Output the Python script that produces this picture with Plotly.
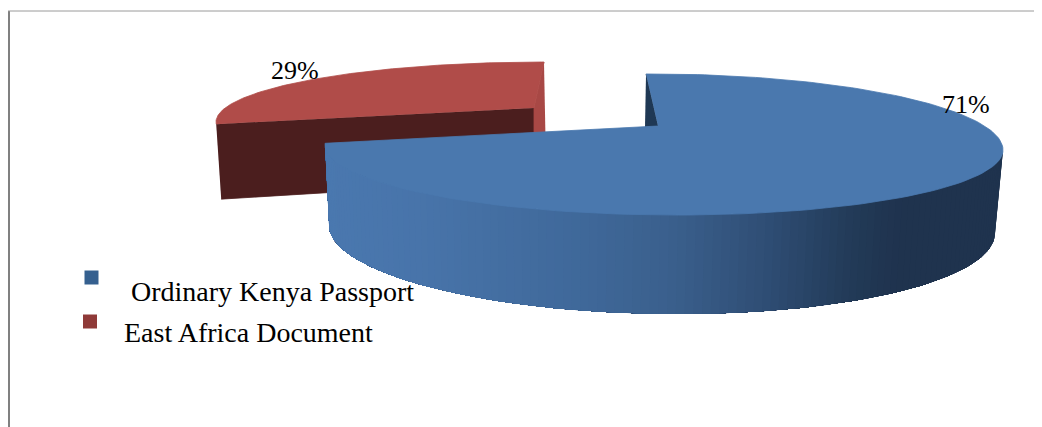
import numpy as np
import plotly.graph_objects as go

categories = ["Ordinary Kenya Passport", "East Africa Document"]
shares = [71, 29]

W, H = 1042, 427
PAGE_MARGIN = 8
K = 0.2

BLUE_TOP = "#4A78AE"
BLUE_CUT = "#1F3854"
RED_TOP = "#B04C49"
RED_SIDE = "#A84845"
RED_CUT = "#4B1E1E"
GRAD_X = [325, 420, 590, 680, 770, 860, 905, 1003]
GRAD_C = [(74, 120, 175), (72, 116, 170), (63, 104, 153), (58, 95, 140),
          (47, 78, 117), (34, 58, 87), (31, 51, 78), (31, 51, 78)]


def ellipse(phi, cx, cy, a, bt, bb, slope):
    r = np.radians(phi)
    x = cx + a * np.sin(r)
    c = np.cos(r)
    y = cy + slope * (x - cx) - np.where(c > 0, bt, bb) * c
    return x, y


def arc(start, end, apex, skew, ell, n=160):
    """Ellipse parameters of the rim between two pie angles, seen from the apex."""
    phi = np.linspace(0, 360, 1441)
    x, y = ellipse(phi, *ell)
    dx, dy = x - apex[0], y - apex[1]
    th = np.degrees(np.arctan2(dx + skew * dy, -dy / K))
    th = np.unwrap(th, period=360)
    want = np.linspace(start, end, n)
    wrapped = np.where(want < th.min(), want + 360, want)
    return np.interp(wrapped, th, phi) % 360


fig = go.Figure()


def poly(x, y, color, width=0.8):
    fig.add_trace(go.Scatter(x=list(x), y=list(y), mode="lines", fill="toself", fillcolor=color,
                             line=dict(color=color, width=width), hoverinfo="skip", showlegend=False))


angle_blue = shares[0] / sum(shares) * 360

# East Africa Document slice (pulled out)
red_apex = (534, 108)
red_ell = (544, 122, 328, 60, 60, 0.0)
red_phi = arc(angle_blue, 360, red_apex, 0.217, red_ell)
red_phi = np.where(red_phi < 1, 360, red_phi)
rx, ry = ellipse(red_phi, *red_ell)
poly([rx[0], red_apex[0], red_apex[0], rx[0] + 5], [ry[0], red_apex[1], red_apex[1] + 72, ry[0] + 75], RED_CUT)
poly([rx[-1], red_apex[0], red_apex[0], rx[-1] + 2], [ry[-1], red_apex[1], red_apex[1] + 60, ry[-1] + 100], RED_SIDE)
poly(list(rx) + [red_apex[0]], list(ry) + [red_apex[1]], RED_TOP)

# Ordinary Kenya Passport slice
blue_apex = (658, 126)
blue_top = (664, 147.5, 339, 73.5, 67.5, 0.0075)
blue_low = (662, 229, 333, 85, 85, 0.012)
blue_phi = arc(0, angle_blue, blue_apex, -0.23, blue_top)
bx, by = ellipse(blue_phi, *blue_top)

wall_end = max(blue_phi[-1], 268)
edges = np.linspace(90, wall_end, 121)
ux, uy = ellipse(edges, *blue_top)
lx, ly = ellipse(edges, *blue_low)
# Painted from the dark end; each step overlaps the rest so that no seams appear.
for i in range(len(edges) - 1):
    col = [int(round(np.interp(ux[i], GRAD_X, [c[j] for c in GRAD_C]))) for j in range(3)]
    poly(list(ux[i:]) + list(lx[i:][::-1]), list(uy[i:]) + list(ly[i:][::-1]),
         "rgb(%d,%d,%d)" % tuple(col), width=0)

poly([bx[0], blue_apex[0], blue_apex[0] - 13], [by[0], blue_apex[1], blue_apex[1] + 1], BLUE_CUT)
poly(list(bx) + [blue_apex[0]], list(by) + [blue_apex[1]], BLUE_TOP)

# Legend keys
fig.add_trace(go.Scatter(x=[91.5, 90], y=[277.5, 321.5], mode="markers",
                         marker=dict(symbol="square", size=14, color=["#35608F", "#8F3A38"]),
                         hoverinfo="skip", showlegend=False))

FONT = "Liberation Serif"
notes = [
    (129, 291, categories[0], 28),
    (122, 332, categories[1], 28),
    (269, 70, f"{shares[1]}%", 26),
    (939.5, 104, f"{shares[0]}%", 26),
]
annotations = [dict(x=x, y=y, text=t, showarrow=False, xanchor="left", yanchor="middle", xref="x", yref="y",
                    font=dict(family=FONT, size=s, color="#000000")) for x, y, t, s in notes]

fig.update_layout(
    width=W - PAGE_MARGIN, height=H - PAGE_MARGIN, margin=dict(l=0, r=0, t=0, b=0), autosize=False,
    paper_bgcolor="white", plot_bgcolor="white", showlegend=False,
    xaxis=dict(range=[PAGE_MARGIN, W], visible=False, fixedrange=True),
    yaxis=dict(range=[H, PAGE_MARGIN], visible=False, fixedrange=True),
    annotations=annotations,
    shapes=[
        dict(type="line", xref="x", yref="y", x0=9, x1=9, y0=11, y1=H, line=dict(color="#808080", width=2)),
        dict(type="line", xref="x", yref="y", x0=8, x1=W, y0=11, y1=11, line=dict(color="#9A9A9A", width=1)),
    ],
)
fig.write_html("out.html", config=dict(displayModeBar=False))
